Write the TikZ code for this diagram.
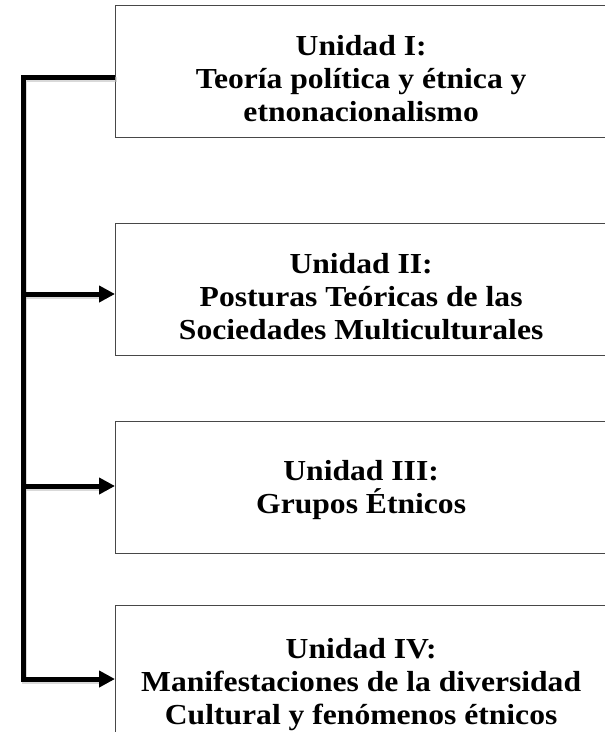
\documentclass[tikz,border=0pt]{standalone}
\usepackage{fontspec}
\setmainfont{Liberation Serif}[FakeStretch=1.09]
\usetikzlibrary{arrows.meta}
\tikzset{
  unitbox/.style={draw=black!72, line width=1.3pt, minimum width=491pt, minimum height=132pt,
    anchor=north west, inner sep=0pt},
  unittext/.style={inner sep=0pt, align=center,
    font=\fontsize{29pt}{33pt}\selectfont\bfseries},
  conn/.style={line width=5pt, black, line join=miter},
  arr/.style={conn, -{Triangle[length=16pt,width=16pt]}},
  shadowline/.style={line width=5pt, black!25, line join=miter, opacity=0.6, transform canvas={shift={(1.5pt,-2pt)}}}
}
\begin{document}
\begin{tikzpicture}[x=1pt,y=-1pt]
\useasboundingbox (0,0) rectangle (605,732);
\begin{scope}
\clip (0,0) rectangle (605,732);
\node[unitbox] (b1) at (115,5) {};
\node[unitbox] (b2) at (115,223) {};
\node[unitbox] (b3) at (115,421) {};
\node[unitbox] (b4) at (115,605) {};
\end{scope}
\node[unittext] (t1) at ([yshift=-7pt]b1.center) {Unidad I:\\Teoría política y étnica y\\etnonacionalismo};
\node[unittext] (t2) at ([yshift=-7pt]b2.center) {Unidad II:\\Posturas Teóricas de las\\Sociedades Multiculturales};
\node[unittext] (t3) at ([yshift=-2pt]b3.center) {Unidad III:\\Grupos Étnicos};
\node[unittext] (t4) at ([yshift=-13pt]b4.center) {Unidad IV:\\Manifestaciones de la diversidad\\Cultural y fenómenos étnicos};
\coordinate (j1) at (23,77);
\coordinate (j2) at (23,294);
\coordinate (j3) at (23,486);
\coordinate (j4) at (23,679);
% shadows
\draw[shadowline] (j1 -| b1.west) -- (j1) -- (j4) -- ([xshift=-12pt]j4 -| b4.west);
\draw[shadowline] (j2) -- ([xshift=-12pt]j2 -| b2.west);
\draw[shadowline] (j3) -- ([xshift=-12pt]j3 -| b3.west);
% connectors
\draw[arr] (j1 -| b1.west) -- (j1) -- (j4) -- (j4 -| b4.west);
\draw[arr] (j2) -- (j2 -| b2.west);
\draw[arr] (j3) -- (j3 -| b3.west);
\end{tikzpicture}
\end{document}
